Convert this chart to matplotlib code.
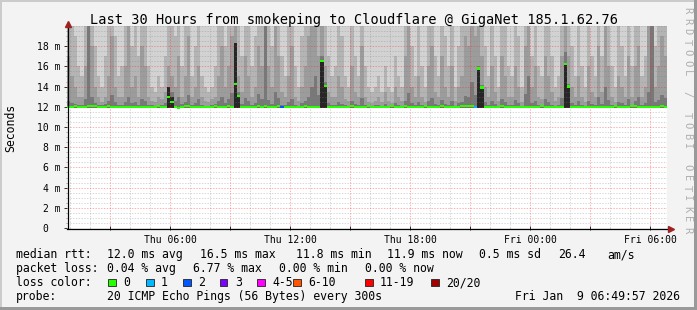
import numpy as np
import matplotlib
matplotlib.use("Agg")
import matplotlib.pyplot as plt
from matplotlib.lines import Line2D
from matplotlib.patches import Rectangle
from matplotlib.ticker import MultipleLocator

# ---- data (ms), one column per 10 min, 30 h window --------------------------
start_h = 0.85          # Thu 00:51
step_h = 1 / 6
smoke_floor = 11.9
smoke_ceiling = 20.0

# top of the light-mid smoke band
band1_top = [
    21, 21, 19, 16, 15, 21, 21, 21, 18, 15, 14, 17, 21, 21, 19, 15, 16, 21, 21, 18,
    21, 17, 21, 21, 16, 14, 13.5, 15, 14, 17, 21, 21, 19, 21, 16, 21, 21, 15, 18, 21,
    15, 14, 13.5, 14, 16, 21, 21, 18, 21, 21, 21, 21, 17, 21, 21, 16, 19, 21, 21, 21,
    21, 18, 21, 21, 17, 15, 21, 21, 16, 14, 19, 21, 21, 21, 21, 21, 21, 21, 17, 15,
    16, 21, 19, 15, 14, 21, 17, 15, 21, 16, 14, 13.5, 14, 15, 13.5, 16, 14, 13.5, 17, 15,
    14, 21, 21, 18, 15, 21, 16, 14, 21, 21, 17, 15, 21, 19, 16, 21, 14, 18, 21, 21,
    21, 21, 21, 21, 21, 18, 15, 21, 17, 14, 21, 21, 16, 15, 21, 19, 14, 21, 21, 17,
    21, 16, 15, 21, 21, 17, 14, 15, 21, 21, 21, 18, 15, 21, 16, 14, 21, 17, 15, 21,
    17, 21, 21, 16, 14, 21, 18, 15, 21, 16, 21, 21, 15, 17, 21, 21, 18, 21, 21, 21,
]
# top of the mid smoke band
band2_top = [
    17, 15, 14, 13, 13, 16, 21, 18, 14, 13, 12.5, 13, 15, 19, 14, 13, 13, 16, 20, 14,
    15, 13, 18, 16, 13, 12.6, 12.5, 13, 12.8, 13.5, 16, 15, 14, 17, 13, 15, 19, 13, 14, 16,
    13, 12.6, 12.5, 12.8, 13, 15, 18, 14, 16, 19, 21, 15, 13.5, 17, 15, 13, 14, 18, 16, 21,
    16, 14, 21, 17, 13.5, 13, 15, 18, 13, 12.6, 14, 16, 19, 21, 21, 17, 21, 16, 13.5, 13,
    13, 15, 14, 12.8, 12.6, 16, 13.5, 13, 18, 13, 12.5, 12.4, 12.6, 13, 12.5, 13.5, 12.6, 12.4, 14, 13,
    12.6, 17, 21, 14, 13, 15, 13, 12.5, 16, 18, 13.5, 13, 17, 14, 13, 16, 12.6, 14, 15, 19,
    18, 21, 19, 21, 17, 14, 13, 16, 13.5, 12.6, 17, 15, 13, 13, 16, 14, 12.5, 18, 21, 14,
    16, 13, 12.8, 17, 15, 13.5, 12.6, 13, 17, 21, 17, 14, 13, 15, 13, 12.5, 16, 13.5, 13, 18,
    13.5, 21, 16, 13, 12.5, 15, 14, 13, 17, 13, 16, 18, 13, 14, 21, 21, 14, 16, 19, 17,
]
# top of the dark smoke band
band3_top = [
    12.6, 12.4, 12.3, 12.2, 12.2, 12.8, 21, 13.0, 12.4, 12.2, 12.2, 12.3, 12.6, 13.2, 12.5, 12.2, 12.2, 12.5, 13.0, 12.4,
    12.5, 12.2, 12.8, 12.6, 12.2, 12.2, 12.1, 12.2, 12.2, 12.4, 14.0, 13.5, 12.6, 13.0, 12.3, 12.5, 13.2, 12.2, 12.4, 12.8,
    12.2, 12.1, 12.1, 12.2, 12.3, 12.6, 13.0, 12.4, 12.8, 13.4, 18.3, 13.5, 12.3, 12.9, 12.6, 12.2, 12.4, 13.3, 12.8, 21,
    12.7, 12.3, 13.5, 12.9, 12.2, 12.2, 12.5, 12.8, 12.2, 12.1, 12.4, 12.6, 13.0, 14.0, 15.0, 13.2, 17.0, 14.5, 12.4, 12.2,
    12.2, 12.5, 12.3, 12.2, 12.1, 12.6, 12.3, 12.2, 12.9, 12.2, 12.1, 12.1, 12.2, 12.2, 12.1, 12.3, 12.1, 12.1, 12.4, 12.2,
    12.1, 12.6, 13.4, 12.4, 12.2, 12.5, 12.2, 12.1, 12.6, 12.9, 12.3, 12.2, 12.7, 12.3, 12.2, 12.6, 12.1, 12.4, 12.5, 13.1,
    13.0, 14.5, 13.2, 16.0, 14.2, 12.5, 12.2, 12.6, 12.3, 12.1, 12.8, 12.5, 12.2, 12.2, 12.7, 12.4, 12.1, 13.3, 15.0, 12.4,
    12.6, 12.2, 12.2, 12.8, 12.5, 12.2, 12.1, 12.2, 12.9, 17.4, 14.3, 12.4, 12.2, 12.6, 12.2, 12.1, 12.6, 12.3, 12.2, 13.0,
    12.3, 14.0, 12.7, 12.2, 12.1, 12.5, 12.4, 12.2, 12.8, 12.2, 12.6, 13.0, 12.2, 12.4, 13.5, 21, 12.5, 12.7, 13.2, 12.9,
]
# columns where all pings bunched up (near-black core)
core_cols = [30, 31, 50, 51, 76, 77, 123, 124, 149, 150]
core_top = [14.0, 13.0, 18.3, 13.1, 16.6, 14.1, 15.9, 14.0, 16.3, 14.0]

median_ms = [
    12.0, 12.0, 12.05, 12.0, 12.0, 12.0, 12.1, 12.1, 12.1, 12.0, 12.0, 12.0, 12.05, 12.0, 11.95, 12.0, 12.0, 12.0, 12.0, 12.0,
    12.0, 12.0, 11.95, 12.0, 12.0, 12.0, 12.0, 12.05, 12.0, 12.0, 13.0, 12.5, 11.95, 11.9, 12.0, 12.05, 12.1, 12.0, 12.0, 12.0,
    11.95, 12.0, 12.0, 12.0, 12.1, 12.0, 12.0, 12.0, 12.05, 12.0, 14.25, 13.1, 11.95, 11.95, 12.0, 12.0, 12.0, 12.05, 12.0, 12.05,
    12.0, 12.0, 12.0, 12.05, 12.0, 12.0, 11.95, 11.95, 12.0, 12.0, 12.0, 12.05, 12.0, 12.0, 12.0, 12.0, 16.5, 14.05, 12.0, 12.0,
    12.0, 12.0, 12.0, 12.0, 12.0, 12.05, 12.0, 12.0, 12.0, 12.0, 12.05, 12.0, 12.0, 11.95, 12.0, 12.0, 12.0, 12.05, 12.0, 12.0,
    12.0, 12.05, 12.0, 12.0, 11.95, 12.0, 12.0, 12.05, 12.0, 12.0, 12.0, 12.0, 12.05, 12.0, 12.0, 12.0, 12.0, 12.0, 12.05, 12.05,
    12.05, 12.05, 12.0, 15.8, 13.9, 12.0, 12.0, 12.0, 11.95, 12.0, 12.05, 12.0, 12.0, 12.0, 12.0, 11.95, 12.0, 12.0, 12.0, 12.0,
    12.0, 12.0, 12.05, 12.0, 12.0, 12.0, 12.0, 12.0, 12.0, 16.2, 14.0, 12.0, 12.0, 12.0, 12.0, 12.0, 12.0, 11.95, 12.0, 12.0,
    12.0, 12.0, 12.0, 12.0, 12.05, 12.0, 12.0, 12.0, 12.0, 12.05, 12.05, 12.0, 12.0, 12.0, 12.0, 12.0, 12.0, 12.0, 12.05, 12.0,
]
loss_cols = [64, 122]
loss_val = [2, 1]

loss_labels = ["0", "1", "2", "3", "4-5", "6-10", "11-19", "20/20"]
loss_colors = ["#26ff00", "#00b8ff", "#0059ff", "#7e00ff",
               "#ff00ff", "#ff5500", "#ff0000", "#a00000"]
loss_index = {0: 0, 1: 1, 2: 2, 3: 3, 4: 4, 5: 4}

xtick_hours = [3, 6, 9, 12, 15, 18, 21, 24, 27, 30]
xtick_labels = ["", "Thu 06:00", "", "Thu 12:00", "", "Thu 18:00",
                "", "Fri 00:00", "", "Fri 06:00"]
ytick_vals = [0, 2, 4, 6, 8, 10, 12, 14, 16, 18]
ytick_labels = ["0  ", "2 m", "4 m", "6 m", "8 m", "10 m", "12 m",
                "14 m", "16 m", "18 m"]

# ---- figure -----------------------------------------------------------------
W, H = 697, 310
MONO = "DejaVu Sans Mono"
plt.rcParams["font.family"] = MONO

fig = plt.figure(figsize=(W / 100, H / 100), dpi=100, facecolor="#f3f3f3")
ax = fig.add_axes([67 / W, 82 / H, 600 / W, 202 / H])
ax.set_facecolor("white")


def px(x, y):
    return x / W, 1 - y / H


n = len(median_ms)
cols_x = start_h + np.arange(n) * step_h
floor = np.full(n, smoke_floor)

ax.bar(cols_x, smoke_ceiling + 1 - floor, bottom=floor, width=step_h,
       align="edge", color="#d2d2d2", linewidth=0)
ax.bar(cols_x, np.array(band1_top) - floor, bottom=floor, width=step_h,
       align="edge", color="#b4b4b4", linewidth=0)
ax.bar(cols_x, np.array(band2_top) - floor, bottom=floor, width=step_h,
       align="edge", color="#9c9c9c", linewidth=0)
ax.bar(cols_x, np.array(band3_top) - floor, bottom=floor, width=step_h,
       align="edge", color="#787878", linewidth=0)
cx = cols_x[core_cols]
ax.bar(cx, np.array(core_top) - smoke_floor, bottom=smoke_floor, width=step_h,
       align="edge", color="#262626", linewidth=0)

med_colors = [loss_colors[0]] * n
for c, v in zip(loss_cols, loss_val):
    med_colors[c] = loss_colors[loss_index[v]]
med = np.array(median_ms)
ax.bar(cols_x, 0.22, bottom=med - 0.11, width=step_h, align="edge",
       color=med_colors, linewidth=0, zorder=3)

ax.set_xlim(start_h, start_h + 30)
ax.set_ylim(0, 20)
ax.set_xticks(xtick_hours)
ax.set_xticklabels(xtick_labels)
ax.set_yticks(ytick_vals)
ax.set_yticklabels(ytick_labels)
ax.xaxis.set_minor_locator(MultipleLocator(1))
ax.yaxis.set_minor_locator(MultipleLocator(0.5))
ax.set_axisbelow(False)
dot = (0, (1.4, 1.4))
ax.grid(which="major", color="#ff2020", alpha=0.35, linestyle=dot, lw=0.72)
ax.grid(which="minor", color="#808080", alpha=0.3, linestyle=dot, lw=0.72)
ax.tick_params(which="major", length=2.2, width=0.72, color="#333333",
               labelsize=7, pad=2.2)
ax.tick_params(which="minor", length=1.0, width=0.6, color="#888888")
ax.tick_params(axis="x", which="major", direction="inout", length=3, pad=3.2)
for s in ax.spines.values():
    s.set_visible(False)

# axes with arrows
fig.add_artist(Line2D([67 / W, 668 / W], [1 - 228.5 / H] * 2, color="black",
                      lw=0.9, transform=fig.transFigure))
fig.add_artist(Line2D([67.5 / W] * 2, [1 - 228 / H, 1 - 23 / H], color="black",
                      lw=0.9, transform=fig.transFigure))
fig.add_artist(Line2D([67.5 / W], [1 - 23.5 / H], marker="^", ms=4.5,
                      color="#9e2222", mec="#9e2222", transform=fig.transFigure))
fig.add_artist(Line2D([670.5 / W], [1 - 228.5 / H], marker=">", ms=4.5,
                      color="#9e2222", mec="#9e2222", transform=fig.transFigure))

# frame shading
fig.add_artist(Rectangle((0, 1 - 2 / H), 1, 2 / H, color="#cbcbcb",
                         transform=fig.transFigure, lw=0))
fig.add_artist(Rectangle((0, 0), 2 / W, 1, color="#cbcbcb",
                         transform=fig.transFigure, lw=0))
fig.add_artist(Rectangle((1 - 3 / W, 0), 3 / W, 1, color="#999999",
                         transform=fig.transFigure, lw=0))
fig.add_artist(Rectangle((0, 0), 1, 3 / H, color="#999999",
                         transform=fig.transFigure, lw=0))

# texts
fig.text(*px(354, 24), "Last 30 Hours from smokeping to Cloudflare @ GigaNet 185.1.62.76",
         ha="center", va="baseline", size=9.8)
fig.text(*px(11, 128), "Seconds", rotation=90, ha="center", va="center", size=8.3)

mark = "RRDTOOL / TOBI OETIKER"
for k, ch in enumerate(mark):
    fig.text(*px(687, 10.5 + 10.45 * k), ch, rotation=-90, ha="center",
             va="center", size=7.5, color="#b0b0b0")

LS = 8.3
rows = [
    (258, [(16, "median rtt:"), (107, "12.0 ms avg"), (200, "16.5 ms max"),
           (296, "11.8 ms min"), (387, "11.9 ms now"), (479, "0.5 ms sd"),
           (558, "26.4"), (607, "am/s")]),
    (272, [(16, "packet loss:"), (107, "0.04 % avg"), (193, "6.77 % max"),
           (279, "0.00 % min"), (365, "0.00 % now")]),
    (286, [(16, "loss color:")]),
    (300, [(16, "probe:"), (107, "20 ICMP Echo Pings (56 Bytes) every 300s")]),
]
for y, items in rows:
    for x, s in items:
        fig.text(*px(x, y), s, ha="left", va="baseline", size=LS)
fig.text(*px(680, 300), "Fri Jan  9 06:49:57 2026", ha="right",
         va="baseline", size=LS)

box_x = [108, 146, 183, 220, 257, 293, 365, 431]
for bx, lab, col in zip(box_x, loss_labels, loss_colors):
    fig.add_artist(Rectangle(px(bx, 286), 7.5 / W, 7.5 / H, facecolor=col,
                             edgecolor="#222222", lw=0.6,
                             transform=fig.transFigure))
    fig.text(*px(bx + 15, 286), lab, ha="left", va="baseline", size=LS)

fig.savefig("out.png", dpi=100, facecolor=fig.get_facecolor())
